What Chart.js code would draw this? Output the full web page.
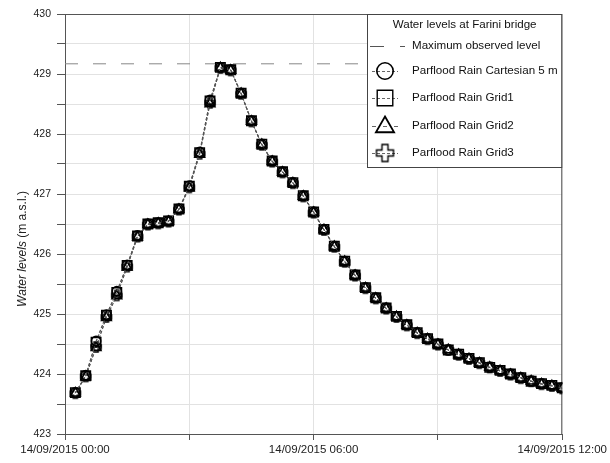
<!DOCTYPE html>
<html>
<head>
<meta charset="utf-8">
<script src="https://cdn.jsdelivr.net/npm/chart.js@4/dist/chart.umd.min.js"></script>
<style>
html,body{margin:0;padding:0;background:#fff;}
#wrap{position:relative;width:610px;height:463px;}
</style>
</head>
<body>
<div id="wrap"><canvas id="c" width="610" height="463"></canvas></div>
<script>
// ---- data ----
const times = ['00:15','00:30','00:45','01:00','01:15','01:30','01:45','02:00','02:15','02:30','02:45','03:00',
  '03:15','03:30','03:45','04:00','04:15','04:30','04:45','05:00','05:15','05:30','05:45','06:00',
  '06:15','06:30','06:45','07:00','07:15','07:30','07:45','08:00','08:15','08:30','08:45','09:00',
  '09:15','09:30','09:45','10:00','10:15','10:30','10:45','11:00','11:15','11:30','11:45','12:00'];
const cartesian5m = [423.69,423.98,424.55,424.99,425.38,425.82,426.31,426.50,426.52,426.55,426.75,427.14,
  427.70,428.57,429.11,429.07,428.68,428.22,427.83,427.55,427.37,427.19,426.97,426.70,
  426.41,426.13,425.88,425.65,425.44,425.27,425.10,424.96,424.82,424.69,424.59,424.50,
  424.40,424.33,424.26,424.19,424.11,424.06,424.00,423.94,423.88,423.84,423.81,423.77];
const grid1 = [423.69,423.97,424.53,424.98,425.36,425.81,426.30,426.50,426.52,426.55,426.75,427.13,
  427.69,428.55,429.11,429.07,428.68,428.22,427.83,427.55,427.37,427.19,426.97,426.70,
  426.41,426.13,425.88,425.65,425.44,425.27,425.10,424.96,424.82,424.69,424.59,424.50,
  424.40,424.33,424.26,424.19,424.11,424.06,424.00,423.94,423.88,423.84,423.81,423.77];
const grid2 = [423.68,423.95,424.44,424.94,425.30,425.78,426.28,426.49,426.51,426.54,426.74,427.10,
  427.66,428.50,429.10,429.06,428.67,428.21,427.82,427.54,427.36,427.18,426.96,426.69,
  426.40,426.12,425.87,425.64,425.43,425.26,425.09,424.95,424.81,424.68,424.58,424.49,
  424.40,424.32,424.25,424.18,424.11,424.05,423.99,423.93,423.88,423.83,423.80,423.76];
const grid3 = [423.68,423.96,424.45,424.95,425.31,425.79,426.29,426.49,426.51,426.54,426.74,427.11,
  427.67,428.52,429.10,429.06,428.67,428.21,427.82,427.54,427.36,427.18,426.96,426.69,
  426.40,426.12,425.87,425.64,425.43,425.26,425.09,424.95,424.81,424.68,424.58,424.49,
  424.40,424.32,424.25,424.18,424.11,424.05,423.99,423.93,423.88,423.83,423.80,423.76];
const maxObservedLevel = 429.17;
const xTickLabels = {0:'14/09/2015 00:00', 6:'14/09/2015 06:00', 12:'14/09/2015 12:00'};
const yTickValues = [423,424,425,426,427,428,429,430];
const seriesNames = ['Parflood Rain Cartesian 5 m','Parflood Rain Grid1','Parflood Rain Grid2','Parflood Rain Grid3'];
const legendTitle = 'Water levels at Farini bridge';
const maxLevelName = 'Maximum observed level';
const yTitleItalic = 'Water levels';
const yTitleNormal = ' (m a.s.l.)';

// ---- helpers ----
const hours = times.map(t => { const [h,m] = t.split(':').map(Number); return h + m/60; });
const toPts = arr => arr.map((v,i) => ({x: hours[i], y: v}));

function makePlus(size, arm, lw){
  const pad = Math.ceil(lw) + 1;
  const cv = document.createElement('canvas');
  cv.width = cv.height = size + pad*2;
  const g = cv.getContext('2d');
  const c = cv.width/2, h = size/2, a = arm/2;
  g.beginPath();
  g.moveTo(c-a,c-h); g.lineTo(c+a,c-h); g.lineTo(c+a,c-a); g.lineTo(c+h,c-a);
  g.lineTo(c+h,c+a); g.lineTo(c+a,c+a); g.lineTo(c+a,c+h); g.lineTo(c-a,c+h);
  g.lineTo(c-a,c+a); g.lineTo(c-h,c+a); g.lineTo(c-h,c-a); g.lineTo(c-a,c-a);
  g.closePath();
  g.lineWidth = lw; g.strokeStyle = '#000'; g.stroke();
  return cv;
}
const plusSmall = makePlus(10, 4, 1.5);
const plusBig = makePlus(17, 6, 1.4);

const FONT = "'Liberation Sans', Arial, sans-serif";
const common = {
  showLine: true, borderColor: '#555', borderWidth: 1, borderDash: [3,2],
  pointBorderColor: '#000', pointBackgroundColor: 'rgba(0,0,0,0)', pointBorderWidth: 1.6,
  tension: 0, fill: false
};

const plotBorder = {
  id: 'plotBorder',
  beforeDatasetsDraw(chart){
    const {ctx, chartArea: a} = chart;
    ctx.save();
    ctx.strokeStyle = '#555'; ctx.lineWidth = 1;
    ctx.strokeRect(a.left+0.5, a.top+0.5, a.right-a.left-1, a.bottom-a.top);
    ctx.restore();
  }
};

const customLegend = {
  id: 'customLegend',
  afterDraw(chart){
    const ctx = chart.ctx;
    ctx.save();
    // y axis title
    ctx.translate(23, 249);
    ctx.rotate(-Math.PI/2);
    ctx.fillStyle = '#222';
    ctx.textBaseline = 'middle';
    ctx.font = 'italic 12px ' + FONT;
    const w1 = ctx.measureText(yTitleItalic).width;
    ctx.font = '12px ' + FONT;
    const w2 = ctx.measureText(yTitleNormal).width;
    let sx = -(w1+w2)/2;
    ctx.font = 'italic 12px ' + FONT;
    ctx.textAlign = 'left';
    ctx.fillText(yTitleItalic, sx, 0);
    ctx.font = '12px ' + FONT;
    ctx.fillText(yTitleNormal, sx + w1, 0);
    ctx.restore();

    // legend box (top-right corner of the plot)
    const a = chart.chartArea;
    ctx.save();
    const L = 367.5, T = a.top + 0.5, R = a.right - 0.5, B = 167.5;
    ctx.fillStyle = '#fff';
    ctx.fillRect(L, T, R-L, B-T);
    ctx.strokeStyle = '#444'; ctx.lineWidth = 1;
    ctx.strokeRect(L, T, R-L, B-T);
    ctx.fillStyle = '#111';
    ctx.font = '11.6px ' + FONT;
    ctx.textBaseline = 'middle';
    ctx.textAlign = 'center';
    ctx.fillText(legendTitle, (L+R)/2, 25);
    ctx.textAlign = 'left';
    const lx = 412, mx = 385;
    // max level
    ctx.strokeStyle = '#555'; ctx.lineWidth = 1;
    ctx.setLineDash([14,16]);
    ctx.beginPath(); ctx.moveTo(370, 46.5); ctx.lineTo(405, 46.5); ctx.stroke();
    ctx.setLineDash([]);
    ctx.fillText(maxLevelName, lx, 46);
    const rows = [71, 98, 126, 153];
    const styles = [
      {pointStyle:'circle', radius:8.2, rotation:0, borderWidth:1.6},
      {pointStyle:'rect', radius:11, rotation:0, borderWidth:1.4},
      {pointStyle:'triangle', radius:10.5, rotation:0, borderWidth:1.8},
      {pointStyle:plusBig, radius:9, rotation:0, borderWidth:0}
    ];
    rows.forEach((y, i) => {
      ctx.strokeStyle = '#666'; ctx.lineWidth = 1;
      ctx.setLineDash(i === 2 ? [4,3,1,3] : [3,2]);
      ctx.beginPath(); ctx.moveTo(372, y+0.5); ctx.lineTo(398, y+0.5); ctx.stroke();
      ctx.setLineDash([]);
      ctx.strokeStyle = '#000'; ctx.fillStyle = 'rgba(0,0,0,0)';
      ctx.lineWidth = styles[i].borderWidth;
      Chart.helpers.drawPoint(ctx, styles[i], mx, y + (i===2 ? 1 : 0));
      ctx.fillStyle = '#111';
      ctx.fillText(seriesNames[i], lx, y);
    });
    ctx.restore();
  }
};

new Chart(document.getElementById('c'), {
  type: 'scatter',
  data: {
    datasets: [
      Object.assign({}, common, {label: seriesNames[0], data: toPts(cartesian5m), pointStyle:'circle', pointRadius:4.6}),
      Object.assign({}, common, {label: seriesNames[1], data: toPts(grid1), pointStyle:'rect', pointRadius:6.6}),
      Object.assign({}, common, {label: seriesNames[2], data: toPts(grid2), pointStyle:'triangle', pointRadius:5.6}),
      Object.assign({}, common, {label: seriesNames[3], data: toPts(grid3), pointStyle: plusSmall, pointRadius:5}),
      {label: maxLevelName, data: [{x:0,y:maxObservedLevel},{x:12,y:maxObservedLevel}], showLine:true,
       borderColor:'#888', borderWidth:1, borderDash:[13,15], pointRadius:0, fill:false}
    ]
  },
  options: {
    responsive: false, animation: false,
    layout: {padding: {top: 14, right: 46, left: 0, bottom: 0}},
    plugins: {legend: {display:false}, tooltip: {enabled:false}},
    scales: {
      x: {
        type: 'linear', min: 0, max: 12,
        afterFit(s){ s.height = 29; },
        grid: {color:'#e2e2e2', tickColor:'#555', tickLength: 6, lineWidth: 1, drawOnChartArea: true},
        border: {color:'#555', width: 1},
        ticks: {stepSize: 3, autoSkip:false, maxRotation:0, padding: 3, color:'#222',
          font: {family: FONT, size: 11.5},
          callback: v => (xTickLabels[v] !== undefined ? xTickLabels[v] : '')}
      },
      y: {
        min: 423, max: 430,
        afterFit(s){ s.width = 65; },
        grid: {color:'#e2e2e2', tickColor:'#555', tickLength: 8, lineWidth: 1},
        border: {color:'#555', width: 1},
        ticks: {stepSize: 0.5, autoSkip:false, padding: 6, color:'#222',
          font: {family: FONT, size: 10.5},
          callback: v => (yTickValues.includes(v) ? String(v) : '')}
      }
    }
  },
  plugins: [plotBorder, customLegend]
});
</script>
</body>
</html>
